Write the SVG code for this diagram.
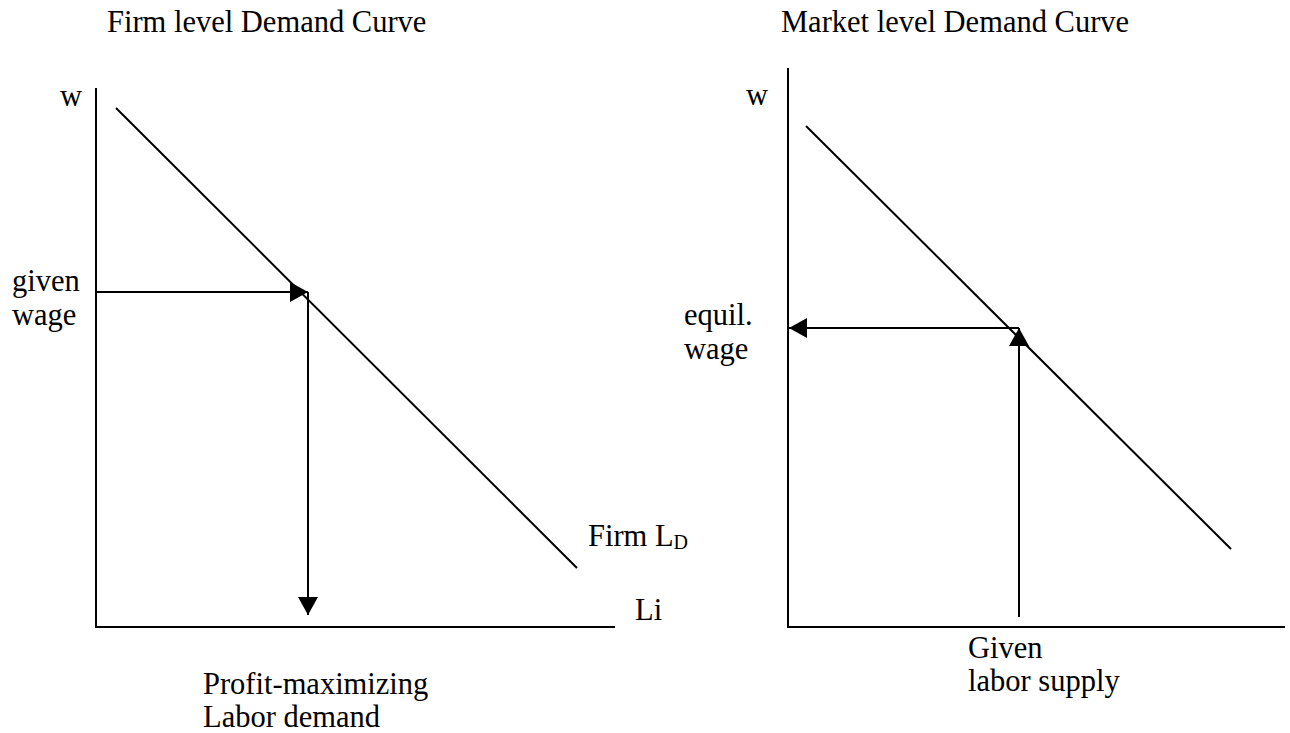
<svg xmlns="http://www.w3.org/2000/svg" width="1290" height="733" viewBox="0 0 1290 733">
<style>
text{font-family:"Liberation Serif","Times New Roman",serif;font-size:30.5px;fill:#000}
.ln{stroke:#000;stroke-width:2;fill:none}
.sub{font-size:20px}
</style>
<defs>
<marker id="ah" markerUnits="userSpaceOnUse" markerWidth="20" markerHeight="20" viewBox="0 0 20 20" refX="18" refY="10" orient="auto">
<path d="M0,0 L18,10 L0,20 Z" fill="#000"/>
</marker>
</defs>
<rect width="1290" height="733" fill="#fff"/>
<g id="firm-panel">
<text x="107" y="32">Firm level Demand Curve</text>
<text x="60" y="106">w</text>
<line class="ln" x1="96" y1="88" x2="96" y2="627"/>
<line class="ln" x1="95" y1="627" x2="615" y2="627"/>
<text x="635" y="620">Li</text>
<line class="ln" x1="116" y1="108" x2="577" y2="568"/>
<text x="588" y="546">Firm L<tspan class="sub" dy="3">D</tspan></text>
<text x="12" y="291">given</text>
<text x="12" y="325">wage</text>
<text x="203" y="694">Profit-maximizing</text>
<text x="203" y="727">Labor demand</text>
</g>
<g id="market-panel">
<text x="781" y="32">Market level Demand Curve</text>
<text x="746" y="105">w</text>
<line class="ln" x1="788" y1="68" x2="788" y2="627"/>
<line class="ln" x1="787" y1="627" x2="1285" y2="627"/>
<line class="ln" x1="806" y1="126" x2="1231" y2="549"/>
<text x="684" y="325">equil.</text>
<text x="684" y="359">wage</text>
<text x="968" y="658">Given</text>
<text x="968" y="691">labor supply</text>
</g>
<g id="connectors">
<line class="ln" x1="96" y1="292" x2="308" y2="292" marker-end="url(#ah)"/>
<line class="ln" x1="308" y1="292" x2="308" y2="615" marker-end="url(#ah)"/>
<line class="ln" x1="1019" y1="328" x2="789" y2="328" marker-end="url(#ah)"/>
<line class="ln" x1="1019" y1="617" x2="1019" y2="328" marker-end="url(#ah)"/>
</g>
</svg>
